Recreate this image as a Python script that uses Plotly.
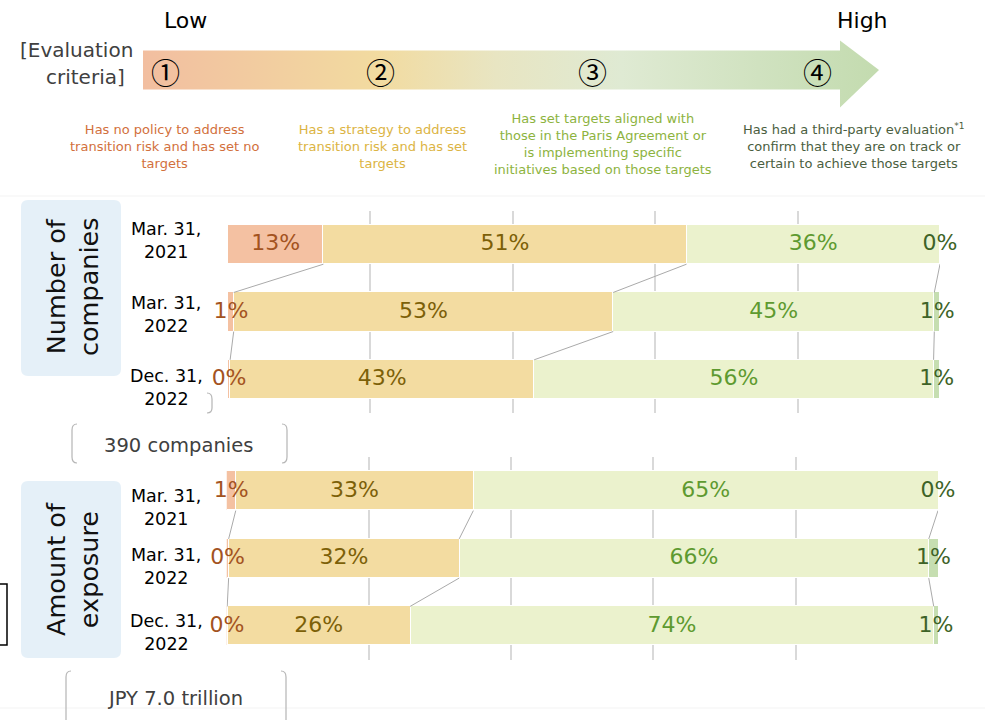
import numpy as np
import plotly.graph_objects as go

# Evaluation levels and dates
levels = ["①", "②", "③", "④"]
level_desc = [
    "Has no policy to address<br>transition risk and has set no<br>targets",
    "Has a strategy to address<br>transition risk and has set<br>targets",
    "Has set targets aligned with<br>those in the Paris Agreement or<br>is implementing specific<br>initiatives based on those targets",
    "Has had a third-party evaluation<sup>*1</sup><br>confirm that they are on track or<br>certain to achieve those targets",
]
dates = ["Mar. 31,<br>2021", "Mar. 31,<br>2022", "Dec. 31,<br>2022"]

# Share (%) of each level, one row per date
companies = [
    [13.4, 51.0, 35.6, 0.0],
    [0.8, 53.3, 45.1, 0.8],
    [0.3, 42.7, 56.1, 0.9],
]
exposure = [
    [1.3, 33.4, 65.3, 0.0],
    [0.3, 32.4, 66.0, 1.3],
    [0.1, 25.7, 73.6, 0.6],
]

bar_colors = ['#f4c1a2', '#f3dca1', '#ebf2cd', '#c6deb1']
text_colors = ['#a3531f', '#7c6008', '#5e9a30', '#3e6327']
desc_colors = ['#d2703c', '#dcb443', '#8db33e', '#4a5e40']
FONT = 'DejaVu Sans'
W, H = 985, 720
BAR_W = 0.58

fig = go.Figure()

panels = [(companies, 'x', 'y'), (exposure, 'x2', 'y2')]
for data, xa, ya in panels:
    arr = np.array(data)
    rows = np.arange(len(dates))
    cum = np.cumsum(arr, axis=1)
    # stacked bars
    for j in range(len(levels)):
        fig.add_trace(go.Bar(
            x=arr[:, j], y=rows, orientation='h', width=BAR_W,
            marker=dict(color=bar_colors[j], line=dict(color='white', width=1)),
            xaxis=xa, yaxis=ya, showlegend=False, hoverinfo='skip'))
    # connector lines between boundaries
    lx, ly = [], []
    for j in range(len(levels) - 1):
        for i in range(len(dates) - 1):
            lx += [cum[i, j], cum[i + 1, j], None]
            ly += [i + BAR_W / 2, i + 1 - BAR_W / 2, None]
    fig.add_trace(go.Scatter(
        x=lx, y=ly, mode='lines', line=dict(color='#aaaaaa', width=1),
        xaxis=xa, yaxis=ya, showlegend=False, hoverinfo='skip'))
    # percentage labels
    for j in range(len(levels)):
        mids = cum[:, j] - arr[:, j] / 2
        fig.add_trace(go.Scatter(
            x=mids, y=rows, mode='text', cliponaxis=False,
            text=[f"{v:.0f}%" for v in arr[:, j]],
            textfont=dict(family=FONT, size=22, color=text_colors[j]),
            xaxis=xa, yaxis=ya, showlegend=False, hoverinfo='skip'))

# gradient arrow (decoration, pixel coordinates on overlay axis)
fig.add_trace(go.Scatter(
    x=[143, 840, 840, 879, 840, 840, 143, 143],
    y=[50.5, 50.5, 40.5, 70, 107.5, 89.5, 89.5, 50.5],
    mode='lines', fill='toself', line=dict(width=0),
    fillgradient=dict(type='horizontal', colorscale=[
        [0, '#f2bea0'], [0.32, '#f2dba0'], [0.48, '#e8e5c2'],
        [0.65, '#dfead3'], [1, '#c3dbaf']]),
    xaxis='x3', yaxis='y3', showlegend=False, hoverinfo='skip'))

ann = []
shapes = []


def txt(x, y, s, size, color='#000000', family=FONT, **kw):
    ann.append(dict(x=x, y=y, xref='x3', yref='y3', text=s, showarrow=False,
                    font=dict(family=family, size=size, color=color), **kw))


def bracket(x0, x1, y0, y1, color='#b5b5b5'):
    r = 6
    shapes.append(dict(type='path', xref='x3', yref='y3',
                       path=f"M{x0+5},{y0} Q{x0},{y0} {x0},{y0+r} L{x0},{y1-r} Q{x0},{y1} {x0+5},{y1}",
                       line=dict(color=color, width=1.2)))
    shapes.append(dict(type='path', xref='x3', yref='y3',
                       path=f"M{x1-5},{y0} Q{x1},{y0} {x1},{y0+r} L{x1},{y1-r} Q{x1},{y1} {x1-5},{y1}",
                       line=dict(color=color, width=1.2)))


def rbox(x0, x1, y0, y1, color, r=7):
    shapes.append(dict(type='path', xref='x3', yref='y3', layer='below',
                       path=(f"M{x0+r},{y0} L{x1-r},{y0} Q{x1},{y0} {x1},{y0+r} "
                             f"L{x1},{y1-r} Q{x1},{y1} {x1-r},{y1} L{x0+r},{y1} "
                             f"Q{x0},{y1} {x0},{y1-r} L{x0},{y0+r} Q{x0},{y0} {x0+r},{y0} Z"),
                       fillcolor=color, line=dict(width=0)))


# header
txt(185, 20, "Low", 22)
txt(862, 20, "High", 22)
txt(76, 50, "[Evaluation", 20, '#404040')
txt(85, 77, "criteria]", 20, '#404040')
for lv, xc in zip(levels, [165, 380, 592, 817]):
    txt(xc, 71, lv, 29, family='Noto Sans CJK JP')
for d, c, xc, yc in zip(level_desc, desc_colors, [164, 382, 603, 854], [146, 146, 144, 146]):
    txt(xc, yc, d, 13, c, align='center')

# faint separator lines
shapes.append(dict(type='line', xref='x3', yref='y3', x0=0, x1=985, y0=196, y1=196,
                   line=dict(color='#f3f3f3', width=1)))
shapes.append(dict(type='line', xref='x3', yref='y3', x0=0, x1=985, y0=708, y1=708,
                   line=dict(color='#f3f3f3', width=1)))

# side boxes
rbox(21, 121, 200, 376, '#e5f0f8')
rbox(21, 121, 481, 658, '#e5f0f8')
txt(72, 287, "Number of<br>companies", 25.5, '#111111', textangle=-90)
txt(72, 569, "Amount of<br>exposure", 25.5, '#111111', textangle=-90)

# date labels
for ya, shifts in [('y', [4, -2, -8]), ('y2', [-16, -8, -6])]:
    for i, (d, s) in enumerate(zip(dates, shifts)):
        ann.append(dict(x=166 / W, y=i, xref='paper', yref=ya, text=d, showarrow=False,
                        yshift=s, align='center', xanchor='center',
                        font=dict(family=FONT, size=17.5, color='#000000')))

# bracket notes
bracket(72, 287, 424, 463)
txt(178, 445, "390 companies", 19.5, '#404040')
bracket(66, 286, 671, 732)
txt(175, 698, "JPY 7.0 trillion", 19.5, '#404040')
shapes.append(dict(type='path', xref='x3', yref='y3',
                   path="M207,393 Q212,393 212,399 L212,408 Q212,413 207,413",
                   line=dict(color='#b5b5b5', width=1.2)))
shapes.append(dict(type='rect', xref='x3', yref='y3', x0=-5, x1=7, y0=584, y1=645,
                   line=dict(color='#000000', width=1.5)))

grid = dict(range=[0, 100], dtick=20, showgrid=True, gridcolor='#d9d9d9', gridwidth=2,
            zeroline=False, showticklabels=False, showline=False, fixedrange=True)
yax = dict(range=[2.5, -0.5], showgrid=False, zeroline=False, showticklabels=False,
           fixedrange=True)

fig.update_layout(
    width=W, height=H,
    margin=dict(l=0, r=0, t=0, b=0),
    plot_bgcolor='rgba(0,0,0,0)', paper_bgcolor='white',
    barmode='stack', bargap=0,
    xaxis=dict(domain=[228 / W, 940 / W], anchor='y', **grid),
    yaxis=dict(domain=[1 - 413 / H, 1 - 211 / H], anchor='x', **yax),
    xaxis2=dict(domain=[226.5 / W, 938 / W], anchor='y2', **grid),
    yaxis2=dict(domain=[1 - 659.75 / H, 1 - 457.25 / H], anchor='x2', **yax),
    xaxis3=dict(domain=[0, 1], range=[0, W], visible=False, anchor='y3', fixedrange=True),
    yaxis3=dict(domain=[0, 1], range=[H, 0], visible=False, anchor='x3', fixedrange=True),
    annotations=ann, shapes=shapes,
    font=dict(family=FONT),
)

fig.write_html("out.html", config={'displayModeBar': False},
               post_script="document.body.style.margin='0';")
